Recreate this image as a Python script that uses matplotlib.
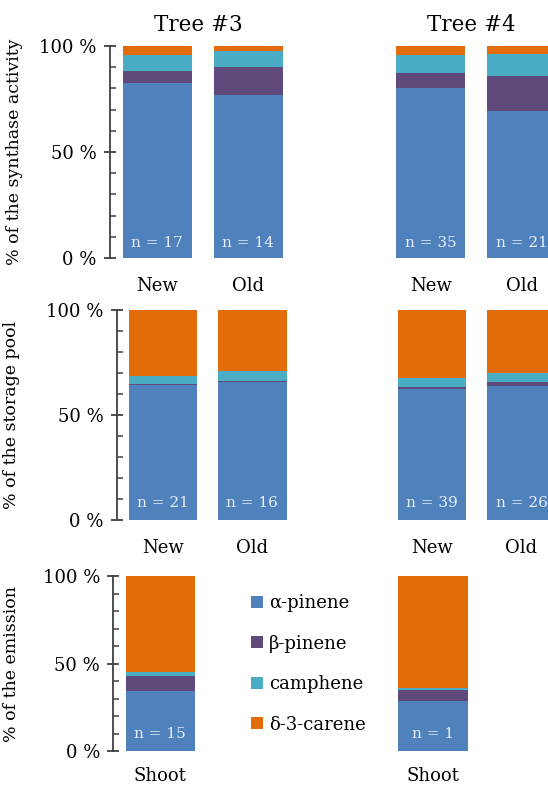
import numpy as np
import matplotlib.pyplot as plt
from matplotlib.patches import Patch
from matplotlib.ticker import MultipleLocator, FuncFormatter
from matplotlib.transforms import blended_transform_factory

plt.rcParams['font.family'] = ['DejaVu Serif']

compounds = ['α-pinene', 'β-pinene', 'camphene', 'δ-3-carene']
colors = ['#4F81BD', '#5F4A7B', '#4BACC6', '#E36C0A']

trees = ['Tree #3', 'Tree #4']
needle_ages = ['New', 'Old', 'New', 'Old']

# synthase activity (%), order: Tree3 New, Tree3 Old, Tree4 New, Tree4 Old
synth_alpha = [82.5, 76.9, 80.2, 69.3]
synth_beta = [5.5, 13.3, 6.9, 16.5]
synth_camph = [7.6, 7.6, 8.7, 10.4]
synth_carene = [4.4, 2.2, 4.2, 3.8]
synth_n = [17, 14, 35, 21]

# storage pool (%)
pool_alpha = [64.1, 65.9, 62.2, 63.8]
pool_beta = [0.5, 0.4, 1.3, 1.9]
pool_camph = [4.1, 4.7, 4.3, 4.1]
pool_carene = [31.3, 29.0, 32.2, 30.2]
pool_n = [21, 16, 39, 26]

# emission (%), Tree3 Shoot, Tree4 Shoot
emis_labels = ['Shoot', 'Shoot']
emis_alpha = [34.2, 28.9]
emis_beta = [8.8, 6.1]
emis_camph = [2.4, 1.1]
emis_carene = [54.6, 63.9]
emis_n = [15, 1]

W, H = 548, 787
fig = plt.figure(figsize=(W / 100, H / 100), dpi=100)


def px_axes(left, top, bottom):
    # axes from pixel coords, running off the right edge of the figure
    return fig.add_axes([left / W, 1 - bottom / H, (W - left) / W, (bottom - top) / H])


def style(ax, ylabel, label_x, xpad=14):
    for s in ['top', 'right', 'bottom']:
        ax.spines[s].set_visible(False)
    ax.spines['left'].set_color('#404040')
    ax.spines['left'].set_linewidth(1.3)
    ax.set_ylim(0, 100)
    ax.yaxis.set_major_locator(MultipleLocator(50))
    ax.yaxis.set_minor_locator(MultipleLocator(10))
    ax.yaxis.set_major_formatter(FuncFormatter(lambda v, p: '%d %%' % v))
    ax.tick_params(axis='y', which='major', direction='inout', length=9,
                   width=1.3, color='#404040', labelsize=13, pad=5)
    ax.tick_params(axis='y', which='minor', direction='in', length=4.5,
                   width=1.1, color='#404040')
    ax.tick_params(axis='x', length=0, labelsize=13, pad=xpad)
    ax.set_ylabel(ylabel, fontsize=12.5)
    ax.yaxis.set_label_coords(label_x / W, 0.5,
                              transform=blended_transform_factory(fig.transFigure, ax.transAxes))


def stack(ax, x, series, ns, n_y):
    bottom = np.zeros(len(x))
    for vals, c in zip(series, colors):
        ax.bar(x, vals, width=0.76, bottom=bottom, color=c, edgecolor='none')
        bottom += np.array(vals)
    for xi, n in zip(x, ns):
        ax.text(xi, n_y, 'n = %d' % n, ha='center', va='center',
                color='#E8EEF5', fontsize=11)


# top: synthase activity
ax1 = px_axes(110, 46, 258)
x4 = np.array([0, 1, 3, 4])
stack(ax1, x4, [synth_alpha, synth_beta, synth_camph, synth_carene], synth_n, 7)
ax1.set_xlim(-0.52, 4.29)
ax1.set_xticks(x4)
ax1.set_xticklabels(needle_ages)
style(ax1, '% of the synthase activity', 23)
for xt, t in zip([0.45, 3.45], trees):
    ax1.text(xt, 110, t, ha='center', va='center', fontsize=15.5, clip_on=False)

# middle: storage pool
ax2 = px_axes(116.7, 310, 520)
stack(ax2, x4, [pool_alpha, pool_beta, pool_camph, pool_carene], pool_n, 8)
ax2.set_xlim(-0.513, 4.295)
ax2.set_xticks(x4)
ax2.set_xticklabels(needle_ages)
style(ax2, '% of the storage pool', 20)

# bottom: emission
ax3 = px_axes(113.3, 576, 751.3)
x2 = np.array([0, 3])
stack(ax3, x2, [emis_alpha, emis_beta, emis_camph, emis_carene], emis_n, 10)
ax3.set_xlim(-0.517, 4.265)
ax3.set_xticks(x2)
ax3.set_xticklabels(emis_labels)
style(ax3, '% of the emission', 20, xpad=11)

handles = [Patch(facecolor=c, edgecolor='none', label=l) for c, l in zip(colors, compounds)]
fig.legend(handles=handles, loc='upper left', bbox_to_anchor=(242 / W, 1 - 585 / H),
           frameon=False, fontsize=13, handlelength=0.65, handleheight=0.65,
           handletextpad=0.35, labelspacing=1.25, borderpad=0)

fig.savefig('out.png', dpi=100)
